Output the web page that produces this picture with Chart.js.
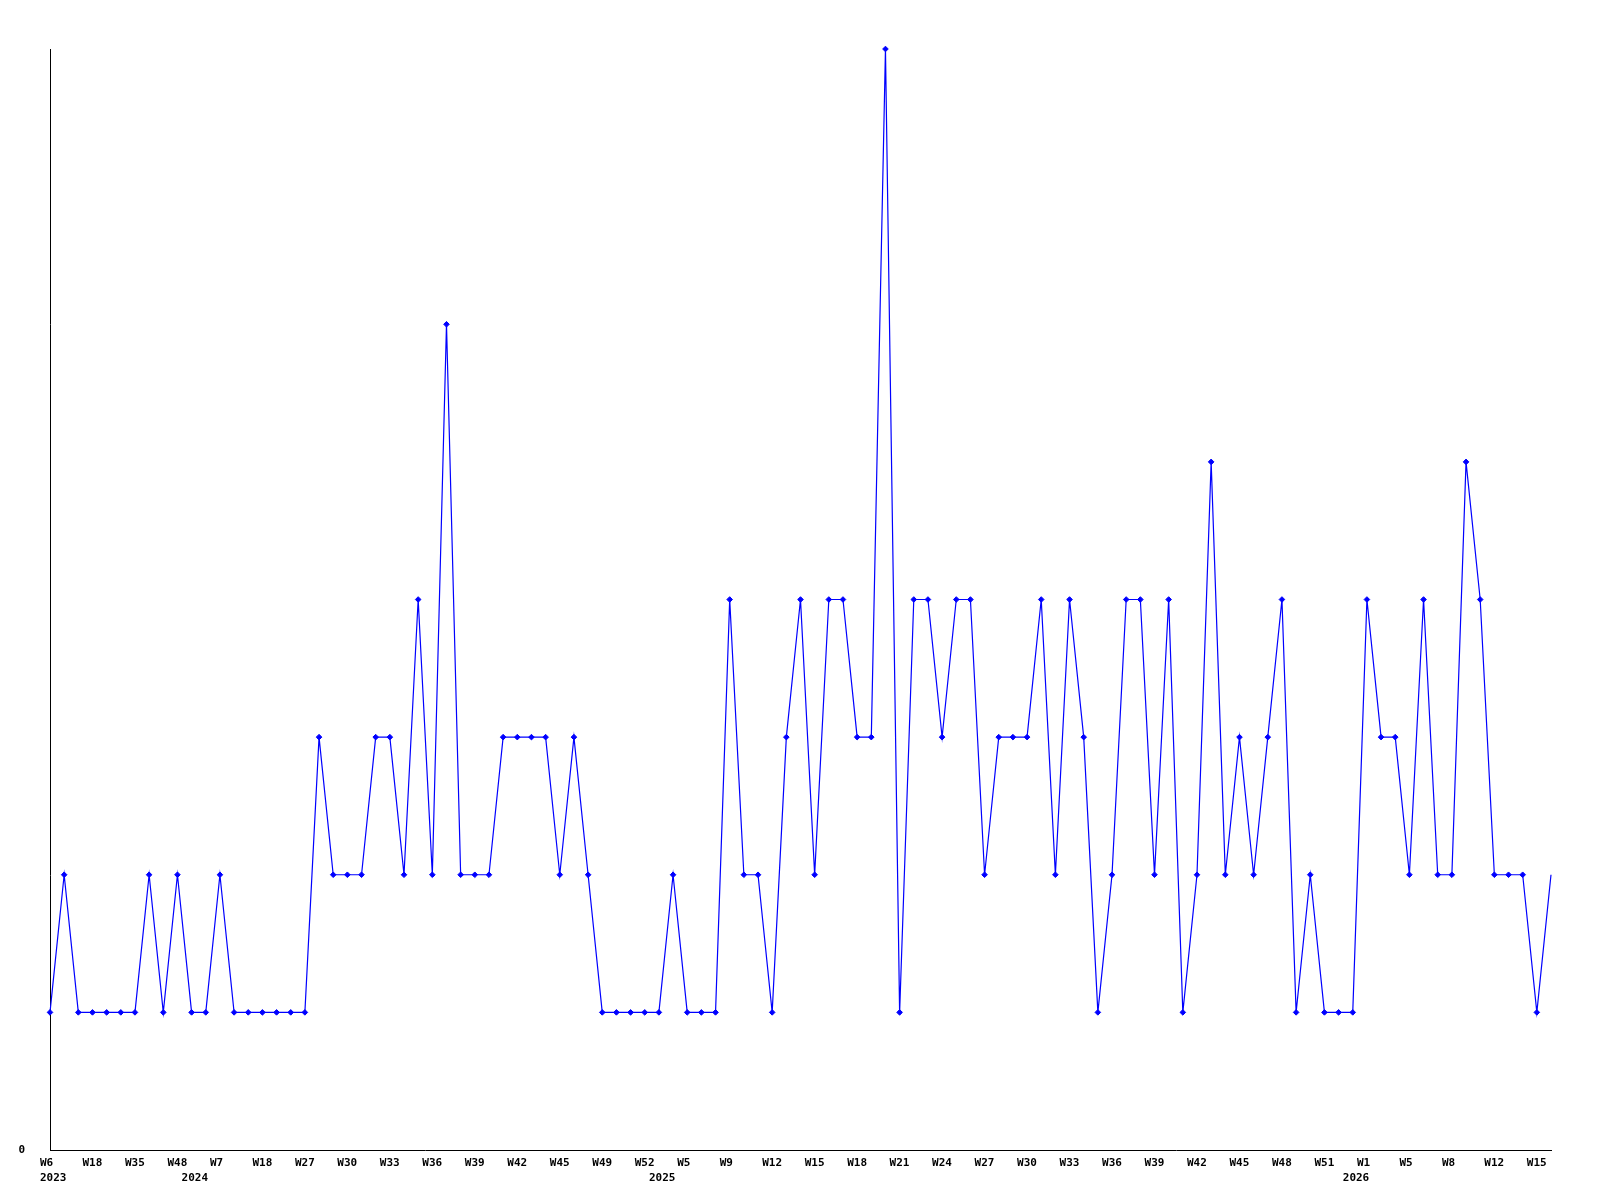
<!DOCTYPE html>
<html>
<head>
<meta charset="utf-8">
<script src="https://cdn.jsdelivr.net/npm/chart.js@4.4.1/dist/chart.umd.min.js"></script>
<style>
  body { margin: 0; background: #fff; }
  canvas { display: block; }
</style>
</head>
<body>
<canvas id="chart" width="1600" height="1200"></canvas>
<script>
// one value per data point (weeks without data are skipped)
const counts = [
  1, 2, 1, 1, 1, 1, 1, 2, 1, 2,
  1, 1, 2, 1, 1, 1, 1, 1, 1, 3,
  2, 2, 2, 3, 3, 2, 4, 2, 6, 2,
  2, 2, 3, 3, 3, 3, 2, 3, 2, 1,
  1, 1, 1, 1, 2, 1, 1, 1, 4, 2,
  2, 1, 3, 4, 2, 4, 4, 3, 3, 8,
  1, 4, 4, 3, 4, 4, 2, 3, 3, 3,
  4, 2, 4, 3, 1, 2, 4, 4, 2, 4,
  1, 2, 5, 2, 3, 2, 3, 4, 1, 2,
  1, 1, 1, 4, 3, 3, 2, 4, 2, 2,
  5, 4, 2, 2, 2, 1, 2
];

// week label shown on every 3rd point
const weekTicks = ['W6', 'W18', 'W35', 'W48', 'W7', 'W18', 'W27', 'W30', 'W33', 'W36',
  'W39', 'W42', 'W45', 'W49', 'W52', 'W5', 'W9', 'W12', 'W15', 'W18',
  'W21', 'W24', 'W27', 'W30', 'W33', 'W36', 'W39', 'W42', 'W45', 'W48',
  'W51', 'W1', 'W5', 'W8', 'W12', 'W15'];
const weekStep = 3;

// year label under the first point of each year
const yearIndex = [0, 10, 43, 92];
const years = ['2023', '2024', '2025', '2026'];

const yMax = 8;
const yTickLabels = ['0'];

const labels = counts.map((_, i) => i);

const ctx = document.getElementById('chart').getContext('2d');
new Chart(ctx, {
  type: 'line',
  data: {
    labels: labels,
    datasets: [{
      data: counts,
      borderColor: '#0000ff',
      backgroundColor: '#0000ff',
      borderWidth: 1.2,
      tension: 0,
      pointStyle: 'rectRot',
      pointRadius: c => c.dataIndex === counts.length - 1 ? 0 : 2.8,
      pointBorderWidth: 1,
      clip: 5
    }]
  },
  options: {
    responsive: false,
    animation: false,
    layout: { padding: { top: 49, right: 49, left: 0, bottom: 0 } },
    plugins: {
      legend: { display: false },
      tooltip: { enabled: false }
    },
    scales: {
      x: {
        type: 'category',
        offset: false,
        grid: { display: false, drawTicks: false },
        border: { display: true, color: '#000', width: 1 },
        afterFit: s => { s.height = 50; },
        ticks: {
          autoSkip: false,
          maxRotation: 0,
          minRotation: 0,
          align: 'start',
          labelOffset: -10,
          padding: 5,
          color: '#000',
          font: { family: 'DejaVu Sans Mono', size: 11, weight: 'bold', lineHeight: 1.42 },
          callback: (v, i) => {
            const wk = i % weekStep === 0 ? (weekTicks[i / weekStep] || '') : '';
            const yi = yearIndex.indexOf(i);
            const yr = yi >= 0 ? years[yi] : '';
            if (!wk && !yr) return '';
            return yr ? [wk, yr] : wk;
          }
        }
      },
      y: {
        min: 0,
        max: yMax,
        grid: { display: false, drawTicks: false },
        border: { display: true, color: '#000', width: 1 },
        afterFit: s => { s.width = 50; },
        ticks: {
          stepSize: yMax,
          padding: 25,
          color: '#000',
          font: { family: 'DejaVu Sans Mono', size: 11, weight: 'bold' },
          callback: (v, i) => yTickLabels[i] || ''
        }
      }
    }
  }
});
</script>
</body>
</html>
